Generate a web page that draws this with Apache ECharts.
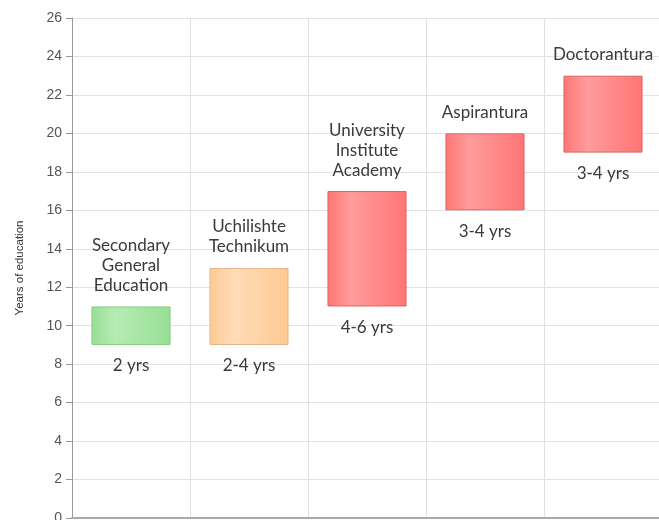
<!DOCTYPE html>
<html lang="en">
<head>
    <meta charset="utf-8" />
    <title>Years of education</title>
    <script type="text/javascript" src="https://cdn.jsdelivr.net/npm/echarts@6/dist/echarts.min.js"></script>
    <style type="text/css">
        html, body { margin: 0; padding: 0; background: #fff; }
    </style>
</head>
<body>

    <div id="main" style="width:659px;height:520px;"></div>

    <script type="text/javascript">

        var categories = ['Secondary General Education', 'Uchilishte Technikum', 'University Institute Academy', 'Aspirantura', 'Doctorantura'];
        var topLabels = ['Secondary\nGeneral\nEducation', 'Uchilishte\nTechnikum', 'University\nInstitute\nAcademy', 'Aspirantura', 'Doctorantura'];
        var bottomLabels = ['2 yrs', '2-4 yrs', '4-6 yrs', '3-4 yrs', '3-4 yrs'];
        var startYears = [9, 9, 11, 16, 19];
        var endYears = [11, 13, 17, 20, 23];
        var yTicks = [0, 2, 4, 6, 8, 10, 12, 14, 16, 18, 20, 22, 24, 26];

        // colour per bar: [edge, light, border]
        var palette = [
            ['#98df96', '#b6ebb3', '#7fcf7c'],
            ['#ffc994', '#ffdcb8', '#e6b487'],
            ['#ff7575', '#ff9c9c', '#d96464'],
            ['#ff7575', '#ff9c9c', '#d96464'],
            ['#ff7575', '#ff9c9c', '#d96464']
        ];

        function grad(c) {
            return new echarts.graphic.LinearGradient(0, 0, 1, 0, [
                { offset: 0, color: c[0] },
                { offset: 0.3, color: c[1] },
                { offset: 1, color: c[0] }
            ]);
        }

        var baseData = [];
        var spanData = [];
        for (var i = 0; i < categories.length; i++) {
            baseData.push({
                value: startYears[i],
                label: { formatter: bottomLabels[i] }
            });
            spanData.push({
                value: endYears[i] - startYears[i],
                itemStyle: { color: grad(palette[i]), borderColor: palette[i][2], borderWidth: 1 },
                label: { formatter: topLabels[i] }
            });
        }

        var myChart = echarts.init(document.getElementById('main'));

        var option = {
            animation: false,
            textStyle: { fontFamily: 'Lato, "Open Sans", sans-serif' },
            grid: {
                left: 72,
                right: -3,
                top: 18,
                bottom: 2,
                containLabel: false,
                outerBoundsMode: 'none'
            },
            xAxis: {
                type: 'category',
                data: categories,
                axisLine: { show: true, lineStyle: { color: '#aaa', width: 2 } },
                axisTick: { show: false },
                axisLabel: { show: false, interval: 0 },
                splitLine: { show: true, interval: 0, lineStyle: { color: '#e0e0e0' } }
            },
            yAxis: {
                type: 'value',
                min: yTicks[0],
                max: yTicks[yTicks.length - 1],
                interval: 2,
                name: 'Years of education',
                nameLocation: 'middle',
                nameGap: 46,
                nameTextStyle: { fontSize: 11.5, color: '#333', fontFamily: '"Liberation Sans", Arial, sans-serif' },
                axisLine: { show: true, lineStyle: { color: '#999' } },
                axisTick: { show: true, length: 6, lineStyle: { color: '#999' } },
                axisLabel: {
                    fontSize: 14,
                    color: '#555',
                    margin: 10,
                    fontFamily: '"Liberation Sans", Arial, sans-serif'
                },
                splitLine: { show: true, lineStyle: { color: '#e3e3e3' } }
            },
            series: [{
                name: 'start',
                type: 'bar',
                stack: 'range',
                barWidth: '67%',
                itemStyle: { color: 'transparent' },
                label: {
                    show: true,
                    position: 'insideTop',
                    distance: 11,
                    fontSize: 17,
                    lineHeight: 20,
                    color: '#3a3a3a'
                },
                emphasis: { disabled: true },
                data: baseData
            }, {
                name: 'span',
                type: 'bar',
                stack: 'range',
                barWidth: '67%',
                label: {
                    show: true,
                    position: 'top',
                    distance: 11,
                    fontSize: 17,
                    lineHeight: 20,
                    color: '#3a3a3a',
                    align: 'center'
                },
                data: spanData
            }]
        };
        myChart.setOption(option, true);
    </script>
</body>
</html>
